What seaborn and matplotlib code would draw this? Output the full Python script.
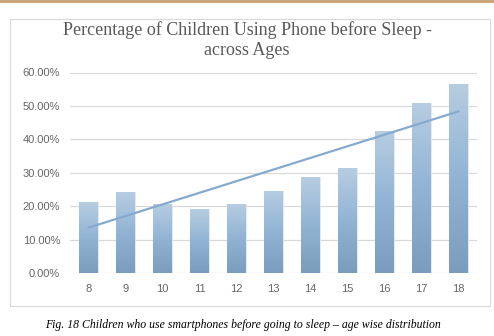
import numpy as np
import pandas as pd
import matplotlib
matplotlib.use("Agg")
import matplotlib.pyplot as plt
import seaborn as sns
from matplotlib.colors import LinearSegmentedColormap
from matplotlib.patches import Rectangle
from matplotlib.ticker import FuncFormatter, MultipleLocator

ages = ["8", "9", "10", "11", "12", "13", "14", "15", "16", "17", "18"]
percent = [21.2, 24.2, 20.6, 19.1, 20.7, 24.6, 28.7, 31.4, 42.5, 50.9, 56.7]
title = "Percentage of Children Using Phone before Sleep -\nacross Ages"
caption = "Fig. 18 Children who use smartphones before going to sleep \u2013 age wise distribution"

df = pd.DataFrame({"age": ages, "pct": percent})

sns.set_theme(style="white")
plt.rcParams["font.family"] = ["Liberation Serif", "DejaVu Serif"]

fig = plt.figure(figsize=(4.94, 3.36), dpi=100)
fig.patch.set_facecolor("white")

# top strip
fig.patches.append(Rectangle((0, 1 - 3 / 336), 1, 3 / 336, transform=fig.transFigure,
                             facecolor="#CDA67A", edgecolor="none", zorder=0))
# chart border
fig.patches.append(Rectangle((10 / 494, 1 - 306 / 336), 480 / 494, 287 / 336,
                             transform=fig.transFigure, facecolor="none",
                             edgecolor="#D9D9D9", lw=0.8, zorder=0))

ax = fig.add_axes([70 / 494, 1 - 273 / 336, (477 - 70) / 494, (273 - 72.5) / 336])
ax.set_facecolor("none")

sns.barplot(data=df, x="age", y="pct", ax=ax, width=0.5, color="#92B5D6",
            order=ages, zorder=2)

cmap = LinearSegmentedColormap.from_list("g", ["#7A9DBD", "#91B4D5", "#B7CDE1"])
grad = np.linspace(0, 1, 256).reshape(-1, 1)
for p in ax.patches:
    x0, y0 = p.get_x(), p.get_y()
    w, h = p.get_width(), p.get_height()
    im = ax.imshow(grad, extent=[x0, x0 + w, y0, y0 + h], origin="lower",
                   aspect="auto", cmap=cmap, zorder=2, interpolation="bilinear")
    im.set_clip_path(p)
    p.set_facecolor("none")
    p.set_edgecolor("#DCE6F0")
    p.set_linewidth(0.6)

sns.regplot(x=np.arange(len(ages)), y=np.array(percent), ax=ax, scatter=False,
            ci=None, truncate=True, line_kws=dict(color="#86AACF", lw=1.6, zorder=3))

ax.set_xlim(-0.5, len(ages) - 0.5)
ax.set_ylim(0, 60)
ax.yaxis.set_major_locator(MultipleLocator(10))
ax.yaxis.set_major_formatter(FuncFormatter(lambda v, _: f"{v:.2f}%"))
ax.grid(axis="y", color="#D9D9D9", lw=0.9, zorder=0)
ax.grid(axis="x", visible=False)
ax.set_axisbelow(True)
for s in ax.spines.values():
    s.set_visible(False)
ax.set_xlabel("")
ax.set_ylabel("")
ax.tick_params(axis="both", length=0, colors="#666666")
ax.tick_params(axis="y", pad=7)
ax.tick_params(axis="x", pad=8)
for lab in ax.get_yticklabels() + ax.get_xticklabels():
    lab.set_fontfamily(["Liberation Sans", "DejaVu Sans"])
    lab.set_fontsize(8)

fig.text(0.5, 1 - 40 / 336, title, ha="center", va="center", fontsize=13,
         color="#595959", linespacing=1.2)
fig.text(243 / 494, 1 - 325 / 336, caption, ha="center", va="center",
         fontsize=8.5, style="italic", color="black")

fig.savefig("out.png", dpi=100)
